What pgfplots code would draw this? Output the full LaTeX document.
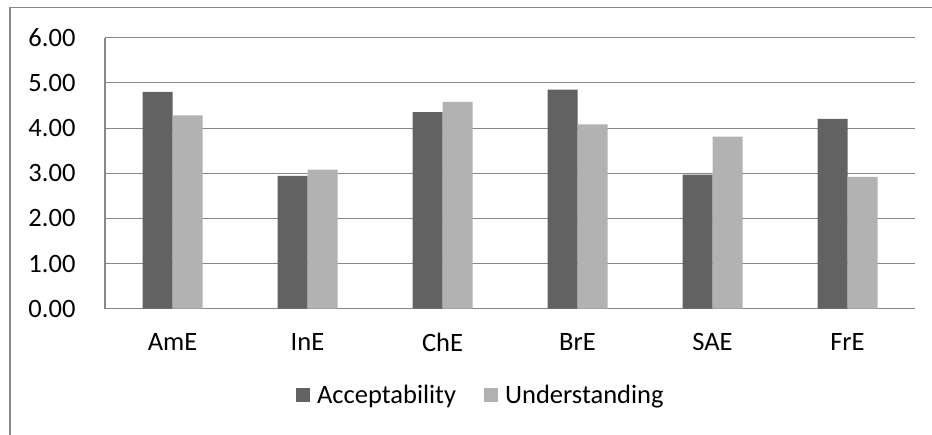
\documentclass[border=0pt]{standalone}
\usepackage{pgfplots}
\pgfplotsset{compat=1.18}
\usepackage{fontspec}
\setmainfont{Carlito}
\definecolor{accC}{HTML}{626262}
\definecolor{undC}{HTML}{B2B2B2}
\definecolor{gridC}{HTML}{878787}
\begin{document}
\begin{tikzpicture}[x=1pt,y=1pt]
\useasboundingbox (0,0) rectangle (932,435);
\draw[gridC, line width=1.2pt] (10,-10) rectangle (945,427.5);
\begin{axis}[
  at={(105pt,126.3pt)}, anchor=south west,
  width=810pt, height=271pt, scale only axis,
  xmin=-0.5, xmax=5.5, ymin=0, ymax=6,
  ybar=0pt, bar width=30pt,
  xtick={0,...,5},
  xticklabels={AmE,InE,ChE,BrE,SAE,FrE},
  ytick={0,1,...,6},
  y tick label style={/pgf/number format/fixed, /pgf/number format/fixed zerofill, /pgf/number format/precision=2},
  /pgf/number format/assume math mode=true,
  tick style={draw=none},
  ymajorgrids, grid style={gridC, line width=1pt},
  axis x line*=bottom, axis y line*=left,
  axis line style={gridC, line width=1.2pt, -},
  tick label style={font=\fontsize{26.5}{30}\selectfont},
  xticklabel style={yshift=-17pt},
  yticklabel style={xshift=-26pt},
  legend style={at={(0.464,-0.318)}, anchor=center, legend columns=2, draw=none,
    font=\fontsize{26.5}{30}\selectfont, column sep=0pt,
    /tikz/every odd column/.append style={column sep=5pt},
    /tikz/every even column/.append style={column sep=26pt}},
  legend image code/.code={\fill[#1] (0pt,-7pt) rectangle (14pt,7pt);},
]
\addplot[fill=accC, draw=none] coordinates {(0,4.80) (1,2.94) (2,4.35) (3,4.85) (4,2.97) (5,4.20)};
\addplot[fill=undC, draw=none] coordinates {(0,4.28) (1,3.08) (2,4.58) (3,4.08) (4,3.81) (5,2.92)};
\legend{Acceptability, Understanding}
\end{axis}
\end{tikzpicture}
\end{document}
